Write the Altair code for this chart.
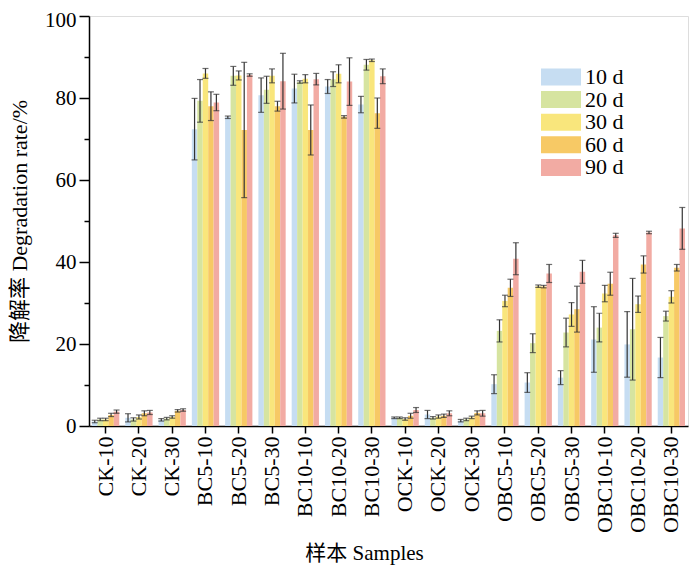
import altair as alt
import pandas as pd

samples = ["CK-10", "CK-20", "CK-30", "BC5-10", "BC5-20", "BC5-30",
           "BC10-10", "BC10-20", "BC10-30", "OCK-10", "OCK-20", "OCK-30",
           "OBC5-10", "OBC5-20", "OBC5-30", "OBC10-10", "OBC10-20", "OBC10-30"]
series = ["10 d", "20 d", "30 d", "60 d", "90 d"]
colors = ["#c6ddf2", "#d6e4a0", "#f9e67c", "#f7c965", "#f2aba3"]

d10 = [1.1, 2.0, 1.5, 72.4, 75.3, 80.7, 82.3, 82.8, 78.4, 2.0, 2.8, 1.3, 10.2, 10.6, 11.8, 21.1, 19.9, 16.7]
e10 = [0.3, 1.0, 0.3, 7.5, 0.3, 4.2, 3.5, 1.7, 2.0, 0.2, 1.0, 0.3, 2.3, 2.4, 1.7, 8.0, 8.0, 4.9]
d20 = [1.6, 1.6, 1.8, 79.3, 85.4, 82.0, 83.9, 84.6, 88.1, 2.0, 2.0, 1.6, 23.2, 20.2, 22.8, 24.0, 23.6, 26.8]
e20 = [0.3, 0.4, 0.3, 5.2, 2.3, 3.3, 0.3, 1.8, 1.3, 0.2, 0.3, 0.3, 2.7, 2.3, 3.5, 3.5, 12.4, 1.2]
d30 = [1.6, 2.2, 2.2, 86.0, 85.5, 85.4, 84.7, 85.9, 89.2, 1.7, 2.3, 2.1, 30.5, 34.1, 27.2, 32.3, 29.7, 31.5]
e30 = [0.3, 0.5, 0.3, 1.2, 1.1, 1.7, 1.0, 2.2, 0.3, 0.3, 0.4, 0.3, 1.4, 0.3, 2.9, 2.0, 2.0, 1.5]
d60 = [2.7, 3.1, 3.7, 78.0, 72.2, 78.0, 72.2, 75.4, 76.3, 2.5, 2.5, 3.2, 33.7, 34.0, 28.5, 34.7, 39.4, 38.6]
e60 = [0.4, 0.6, 0.3, 3.5, 16.5, 1.2, 6.1, 0.3, 3.7, 0.6, 0.4, 0.5, 2.1, 0.3, 5.6, 2.8, 2.1, 0.8]
d90 = [3.5, 3.3, 3.9, 78.9, 85.6, 84.1, 84.6, 84.0, 85.3, 3.9, 3.1, 3.1, 40.8, 37.2, 37.6, 46.5, 47.2, 48.2]
e90 = [0.4, 0.5, 0.3, 2.0, 0.3, 6.8, 1.4, 5.8, 1.8, 0.6, 0.6, 0.7, 3.9, 2.2, 2.8, 0.5, 0.3, 5.1]

vals = [d10, d20, d30, d60, d90]
errs = [e10, e20, e30, e60, e90]

rows = []
for s, v, e in zip(series, vals, errs):
    for i, smp in enumerate(samples):
        rows.append({"sample": smp, "series": s, "value": v[i], "err": e[i]})
df = pd.DataFrame(rows)

SERIF = "Liberation Serif"
FONT = "'Liberation Serif', 'Noto Sans CJK SC', serif"

x_enc = alt.X("sample:N", sort=samples,
              scale=alt.Scale(paddingInner=0, paddingOuter=0),
              axis=alt.Axis(title="样本 Samples", labelAngle=270, labelFontSize=22,
                            labelFont=SERIF, labelColor="black", labelPadding=3,
                            tickSize=7, tickWidth=1.5, tickColor="black",
                            domainColor="black", domainWidth=1.5,
                            titleFont=FONT, titleFontSize=21, titleFontWeight="normal",
                            titleColor="black", titlePadding=10, titleX=275))
xoff = alt.XOffset("series:N", sort=series,
                   scale=alt.Scale(paddingInner=0, paddingOuter=0.55))
y_scale = alt.Scale(domain=[0, 100], nice=False)
y_axis = alt.Axis(title="降解率 Degradation rate/%",
                  values=[0, 10, 20, 30, 40, 50, 60, 70, 80, 90, 100],
                  labelExpr="datum.value % 20 == 0 ? datum.label : ''",
                  tickSize={"condition": {"test": "datum.value % 20 == 0", "value": 10}, "value": 5},
                  labelOffset={"condition": {"test": "datum.value == 100", "value": 4}, "value": 0},
                  tickWidth=1.5, tickColor="black", domainColor="black", domainWidth=1.5,
                  labelFont=SERIF, labelFontSize=21, labelColor="black", labelPadding=3,
                  grid=False, titleFont=FONT, titleFontSize=22, titleFontWeight="normal",
                  titleColor="black", titlePadding=13)

base = alt.Chart(df)

bars = base.mark_bar().encode(
    x=x_enc,
    xOffset=xoff,
    y=alt.Y("value:Q", scale=y_scale, axis=y_axis),
    color=alt.Color("series:N", sort=series,
                    scale=alt.Scale(domain=series, range=colors),
                    legend=alt.Legend(title=None, orient="none", legendX=461, legendY=50,
                                      symbolType="M-2,-0.85L2,-0.85L2,0.85L-2,0.85Z",
                                      symbolSize=400, symbolStrokeWidth=0,
                                      labelFont=SERIF, labelFontSize=22, labelColor="black",
                                      labelOffset=13, rowPadding=0.6, padding=0)),
)

rules = base.transform_calculate(
    lo="datum.value - datum.err", hi="datum.value + datum.err"
).mark_rule(color="#333333", strokeWidth=1.2).encode(
    x=alt.X("sample:N", sort=samples),
    xOffset=xoff,
    y=alt.Y("lo:Q", scale=y_scale),
    y2="hi:Q",
)

cap_lo = base.transform_calculate(
    lo="datum.value - datum.err"
).mark_tick(color="#333333", thickness=1.2, size=6).encode(
    x=alt.X("sample:N", sort=samples),
    xOffset=xoff,
    y=alt.Y("lo:Q", scale=y_scale),
)
cap_hi = base.transform_calculate(
    hi="datum.value + datum.err"
).mark_tick(color="#333333", thickness=1.2, size=6).encode(
    x=alt.X("sample:N", sort=samples),
    xOffset=xoff,
    y=alt.Y("hi:Q", scale=y_scale),
)

chart = alt.layer(bars, rules, cap_lo, cap_hi).properties(
    width=599, height=410,
    autosize=alt.AutoSizeParams(type="none"),
    padding={"left": 81, "top": 8, "right": 4, "bottom": 140},
).configure_view(
    stroke="black", strokeWidth=1.5
).configure(background="white")

chart.save("out.html", embed_options={"renderer": "svg", "actions": False})
